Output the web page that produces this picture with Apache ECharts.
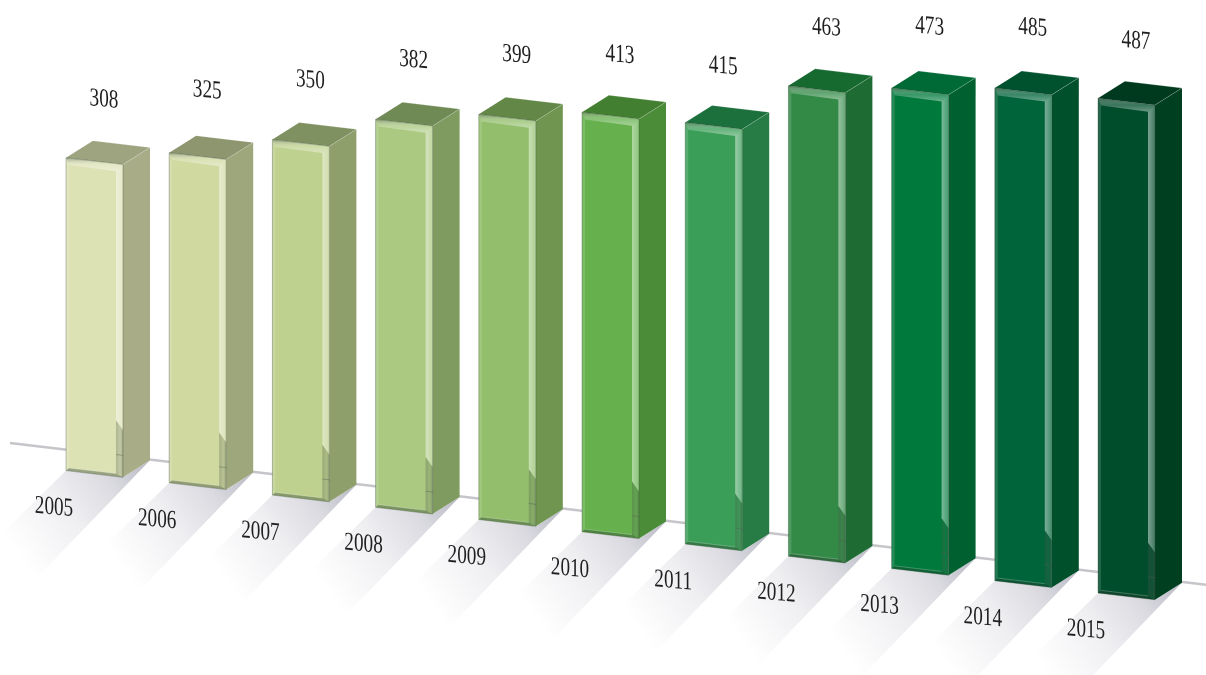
<!DOCTYPE html>
<html>
<head>
<meta charset="utf-8">
<style>html,body{margin:0;padding:0;background:#fff}#chart{width:1206px;height:675px}</style>
<script src="https://cdn.jsdelivr.net/npm/echarts@6/dist/echarts.min.js"></script>
</head>
<body>
<div id="chart"></div>
<script>
// Annual figures
const years = ['2005','2006','2007','2008','2009','2010','2011','2012','2013','2014','2015'];
const values = [308,325,350,382,399,413,415,463,473,485,487];

// Palette per column
const frontColors = ['#dde2b5','#d0d9a0','#bfd18e','#abc981','#93bf6c','#66b14e','#3b9e58','#338a47','#007a3c','#00643a','#004d2c'];
const sideColors  = ['#a8ad88','#9ea67b','#8f9f6c','#7f9b60','#6f9550','#4b8c39','#267c44','#1f6b34','#006030','#00502c','#003f20'];
const topColors   = ['#9ea480','#8e9670','#7f9161','#708a55','#628746','#427f30','#1b703c','#16692f','#006a36','#00522e','#003a1e'];

// Hand-set vertical nudges for the value captions
const captionNudge = [0,-4,-1,-1,-1,1,2,0,-3,-2,1];

// Oblique projection of the flat grid
const SLOPE = 0.1186;
const DEPTH_X = 27, DEPTH_Y = -17;
const FRONT_W = 57;
const BEVEL = 7;

function projector(api) {
  const anchor = api.coord([years.length - 1, 0])[0] - FRONT_W / 2;
  return (x, y) => [x, y + SLOPE * (x - anchor)];
}
function poly(points, fill, stroke, lineWidth) {
  return { type: 'polygon', shape: { points: points },
    style: { fill: fill, stroke: stroke || null, lineWidth: lineWidth || 0 } };
}
function seg(a, b, stroke, lineWidth) {
  return { type: 'line', shape: { x1: a[0], y1: a[1], x2: b[0], y2: b[1] },
    style: { stroke: stroke, lineWidth: lineWidth } };
}
function grad(x, y, x2, y2, stops) {
  return new echarts.graphic.LinearGradient(x, y, x2, y2, stops.map(s => ({ offset: s[0], color: s[1] })));
}

function renderAxisLine(params, api) {
  const p = projector(api);
  const y0 = api.coord([0, 0])[1] - 21;
  const a = p(10, y0), b = p(1206, y0);
  return seg(a, b, '#c6c6ca', 2.4);
}

function renderColumn(params, api) {
  const i = api.value(0);
  const p = projector(api);
  const base = api.coord([i, 0]);
  const top = api.coord([i, api.value(1)]);
  const xl = base[0] - FRONT_W / 2, xr = xl + FRONT_W;

  const bl = p(xl, base[1]), br = p(xr, base[1]);
  const tl = p(xl, top[1]), tr = p(xr, top[1]);
  const add = (q, dx, dy) => [q[0] + dx, q[1] + dy];
  const bbr = add(br, DEPTH_X, DEPTH_Y), tbr = add(tr, DEPTH_X, DEPTH_Y), tbl = add(tl, DEPTH_X, DEPTH_Y);

  const slopeAt = BEVEL * SLOPE;
  // Inner corners of the bevelled front panel
  const itl = [tl[0] + 3, tl[1] + BEVEL + 0.4];
  const itr = [tr[0] - BEVEL, tr[1] + BEVEL - slopeAt + 0.6];
  const ibr = [br[0] - BEVEL, br[1] - 3 - slopeAt];
  const ibl = [bl[0] + 3, bl[1] - 3 + 0.4];

  // The shaded lower part of the right bevel starts with a diagonal cut
  const cutL = [br[0] - BEVEL, br[1] - 57];
  const cutR = [br[0], br[1] - 47];
  const ghostY = br[1] - 22;

  return {
    type: 'group',
    children: [
      // Floor shadow running towards the viewer
      poly([bbr, br, bl, add(bl, -100, 98), add(bbr, -125, 130)],
        grad(1, 0, 0, 1, [[0, '#b9b9c6'], [0.2, '#dadae0'], [0.42, '#efeff2'], [0.72, '#ffffff']])),
      // Right and top faces
      poly([tr, tbr, bbr, br], sideColors[i]),
      poly([tl, tbl, tbr, tr], topColors[i]),
      seg(tr, tbr, 'rgba(255,255,255,0.26)', 0.8),
      seg(tbl, tbr, 'rgba(255,255,255,0.3)', 0.8),
      // Front panel
      poly([tl, tr, br, bl], frontColors[i]),
      // Left and bottom bevels
      poly([tl, itl, ibl, bl], 'rgba(255,255,255,0.14)'),
      poly([bl, ibl, ibr, br], 'rgba(40,60,45,0.38)'),
      seg(ibl, ibr, 'rgba(255,255,255,0.3)', 0.8),
      // Top bevel
      poly([tl, tr, itr, itl], grad(0, 0, 0, 1, [[0, 'rgba(105,118,100,0.6)'], [0.5, 'rgba(255,255,255,0.22)'], [1, 'rgba(255,255,255,0.42)']])),
      // Right bevel, light above the cut and shaded below it
      poly([tr, cutR, cutL, itr], grad(0, 0, 1, 0, [[0, 'rgba(255,255,255,0.48)'], [1, 'rgba(255,255,255,0.26)']])),
      poly([cutL, cutR, br, ibr], grad(0, 0, 1, 0, [[0, 'rgba(70,85,70,0.32)'], [0.6, 'rgba(90,100,90,0.2)'], [1, 'rgba(70,85,70,0.38)']])),
      seg([xr - BEVEL, ghostY - slopeAt], [xr, ghostY], 'rgba(80,95,80,0.42)', 1),
      // Outline
      poly([tl, tr, br, bl], 'rgba(0,0,0,0)', 'rgba(55,70,55,0.42)', 0.8)
    ]
  };
}

// Numerals follow the floor slope with upright stems, so they are sheared rather than turned
function numberText(text, x, y) {
  return { type: 'text', x: x, y: y, skewY: -0.085, scaleX: 0.74,
    style: { text: text, fill: '#1f1f1f', align: 'center', verticalAlign: 'middle',
      fontFamily: '"Liberation Serif", serif', fontSize: 26 } };
}

function renderCaptions(params, api) {
  const i = api.value(0);
  const p = projector(api);
  const base = api.coord([i, 0]);
  const top = api.coord([i, api.value(1)]);
  const xl = base[0] - FRONT_W / 2;
  const tl = p(xl, top[1]), bl = p(xl, base[1]);
  return {
    type: 'group',
    children: [
      numberText(String(values[i]), tl[0] + 38, tl[1] - 58 + captionNudge[i]),
      numberText(years[i], bl[0] - 12, bl[1] + 37)
    ]
  };
}

const chart = echarts.init(document.getElementById('chart'), null, { renderer: 'canvas' });
chart.setOption({
  animation: false,
  backgroundColor: '#ffffff',
  grid: { left: 42.9, width: 1135.2, top: 85, height: 508 },
  xAxis: { type: 'category', data: years, show: false },
  yAxis: { type: 'value', min: 0, max: 500, show: false },
  series: [
    { type: 'custom', z: 1, silent: true, clip: false, data: [[0, 0]], renderItem: renderAxisLine },
    { type: 'custom', z: 2, silent: true, clip: false, encode: { x: 0, y: 1 },
      data: values.map((v, i) => [i, v]), renderItem: renderColumn },
    { type: 'custom', z: 3, silent: true, clip: false, encode: { x: 0, y: 1 },
      data: values.map((v, i) => [i, v]), renderItem: renderCaptions }
  ]
});
</script>
</body>
</html>
